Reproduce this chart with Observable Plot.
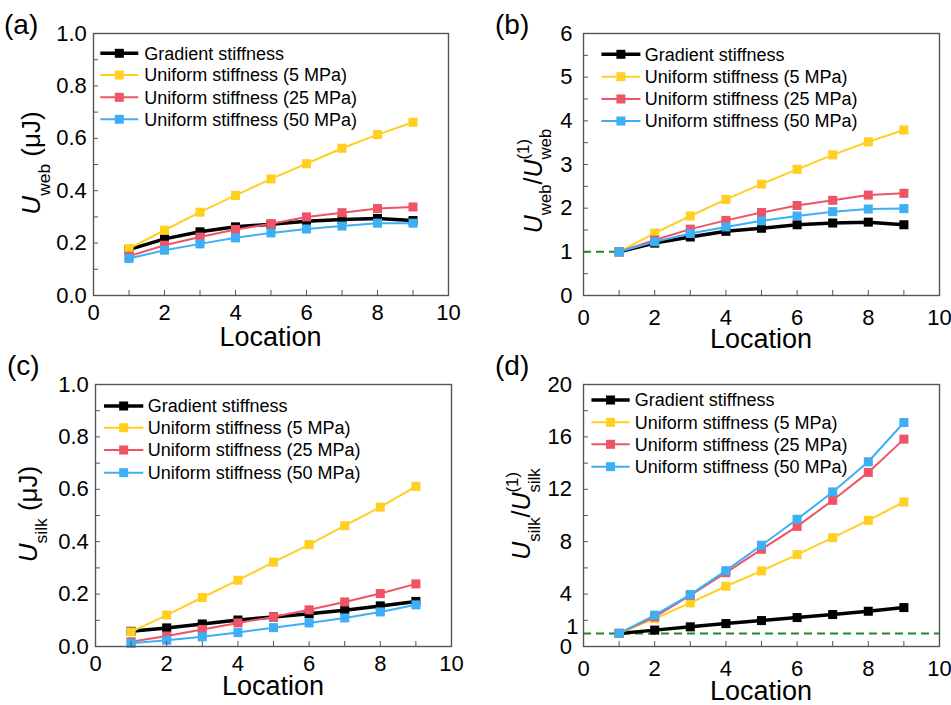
<!DOCTYPE html>
<html><head><meta charset="utf-8">
<script src="https://cdn.jsdelivr.net/npm/d3@7"></script>
<script src="https://cdn.jsdelivr.net/npm/@observablehq/plot@0.6"></script>
<style>
body{margin:0;background:#fff;}
#wrap{position:relative;width:951px;height:705px;overflow:hidden;font-family:"Liberation Sans",Arial,sans-serif;}
.panel{position:absolute;}
</style></head><body><div id="wrap"></div>
<script>
// ---------- data ----------
const locations = [1, 2, 3, 4, 5, 6, 7, 8, 9];
const seriesNames = ["Gradient stiffness", "Uniform stiffness (5 MPa)", "Uniform stiffness (25 MPa)", "Uniform stiffness (50 MPa)"];
const seriesColors = ["#000000", "#FFCF22", "#EF5466", "#3DAFF5"];

const webGradient = [0.175, 0.216, 0.243, 0.262, 0.272, 0.283, 0.290, 0.294, 0.286];
const web5 = [0.179, 0.249, 0.318, 0.382, 0.445, 0.503, 0.562, 0.614, 0.661];
const web25 = [0.150, 0.192, 0.223, 0.252, 0.274, 0.300, 0.316, 0.332, 0.338];
const web50 = [0.141, 0.173, 0.197, 0.220, 0.239, 0.254, 0.265, 0.276, 0.276];

const webRatioGradient = [1, 1.20, 1.34, 1.47, 1.54, 1.62, 1.66, 1.68, 1.62];
const webRatio5 = [1, 1.43, 1.82, 2.20, 2.55, 2.89, 3.22, 3.52, 3.79];
const webRatio25 = [1, 1.27, 1.52, 1.72, 1.90, 2.06, 2.18, 2.30, 2.34];
const webRatio50 = [1, 1.23, 1.42, 1.57, 1.71, 1.82, 1.92, 1.98, 1.99];

const silkGradient = [0.058, 0.071, 0.086, 0.101, 0.113, 0.125, 0.138, 0.155, 0.172];
const silk5 = [0.056, 0.120, 0.187, 0.253, 0.322, 0.389, 0.461, 0.532, 0.611];
const silk25 = [0.018, 0.040, 0.065, 0.090, 0.113, 0.140, 0.170, 0.202, 0.239];
const silk50 = [0.012, 0.024, 0.037, 0.053, 0.072, 0.090, 0.109, 0.132, 0.159];

const silkRatioGradient = [1, 1.25, 1.50, 1.75, 1.98, 2.21, 2.44, 2.69, 2.97];
const silkRatio5 = [1, 2.13, 3.33, 4.60, 5.77, 7.01, 8.31, 9.63, 11.03];
const silkRatio25 = [1, 2.26, 3.91, 5.64, 7.42, 9.17, 11.16, 13.29, 15.83];
const silkRatio50 = [1, 2.39, 3.96, 5.79, 7.73, 9.71, 11.80, 14.10, 17.10];

// ---------- ticks ----------
const xMajor = [0, 2, 4, 6, 8, 10];
const xMinor = [1, 3, 5, 7, 9];
const energyMajor = [0, 0.2, 0.4, 0.6, 0.8, 1.0];
const energyMinor = [0.1, 0.3, 0.5, 0.7, 0.9];
const webRatioMajor = [0, 1, 2, 3, 4, 5, 6];
const webRatioMinor = [0.5, 1.5, 2.5, 3.5, 4.5, 5.5];
const silkRatioMajor = [0, 4, 8, 12, 16, 20];
const silkRatioMinor = [2, 6, 10, 14, 18];
const silkRatioExtra = [1];
const panelLetters = ["(a)", "(b)", "(c)", "(d)"];

// ---------- helpers ----------
const FONT = '"Liberation Sans", Arial, sans-serif';
const FRAME = "#555";

function tidy(arrays) {
  const rows = [];
  arrays.forEach((arr, s) => arr.forEach((v, i) => rows.push({loc: locations[i], value: v, series: s})));
  return rows;
}

function richLabel(svg, parts, bx, cy, size) {
  const t = svg.append("text")
    .attr("font-family", FONT).attr("font-size", size).attr("fill", "black").attr("text-anchor", "start")
    .attr("transform", `translate(${bx},${cy}) rotate(-90)`);
  let x = 0, lastStart = 0;
  for (const p of parts) {
    const fs = p.shift ? size * 0.67 : size;
    const y = p.shift === "sub" ? size * 0.38 : p.shift === "sup" ? -size * 0.5 : 0;
    const sx = p.stack ? lastStart : x;
    const ts = t.append("tspan").attr("x", sx).attr("y", y).attr("font-size", fs).text(p.t);
    if (p.italic) ts.attr("font-style", "italic");
    const w = ts.node().getComputedTextLength();
    if (!p.stack) { lastStart = sx; x = sx + w; } else { x = Math.max(x, sx + w); }
  }
  t.selectAll("tspan").attr("x", function () { return +this.getAttribute("x") - x / 2; });
}

function makePanel(cfg) {
  const rows = tidy(cfg.series);
  const marks = [];
  if (cfg.dashed) marks.push(Plot.ruleY(cfg.dashed.y, {x1: cfg.dashed.x1, x2: cfg.dashed.x2, stroke: "#1f8a1f", strokeWidth: 2, strokeDasharray: "8,5"}));
  cfg.series.forEach((_, s) => {
    const d = rows.filter(r => r.series === s);
    marks.push(Plot.line(d, {x: "loc", y: "value", stroke: seriesColors[s], strokeWidth: s === 0 ? 3.5 : 2}));
    marks.push(Plot.dot(d, {x: "loc", y: "value", symbol: "square", fill: seriesColors[s], r: 5.1}));
  });
  marks.push(Plot.frame({stroke: FRAME, strokeWidth: 1.4}));
  marks.push(Plot.axisX(xMajor, {tickSize: -5, tickPadding: cfg.xPad, stroke: FRAME, fill: "black", fontSize: 22, label: null}));
  marks.push(Plot.axisX(xMinor, {tickSize: -5, tickFormat: () => "", stroke: FRAME, label: null}));
  marks.push(Plot.axisY(cfg.yMajor, {tickSize: -5, tickPadding: cfg.yPad, stroke: FRAME, fill: "black", fontSize: 22, label: null, tickFormat: cfg.fmt}));
  marks.push(Plot.axisY(cfg.yMinor, {tickSize: -5, tickFormat: () => "", stroke: FRAME, label: null}));
  if (cfg.extra) marks.push(Plot.axisY(cfg.extra, {tickSize: 0, tickPadding: 5, dy: -6.5, fill: "black", fontSize: 22, label: null}));

  const plot = Plot.plot({
    width: cfg.w, height: cfg.h,
    marginLeft: cfg.m[0], marginRight: cfg.m[1], marginTop: cfg.m[2], marginBottom: cfg.m[3],
    x: {domain: [0, 10], label: null},
    y: {domain: cfg.yDomain, label: null},
    style: {fontFamily: FONT, fontSize: "22px", background: "transparent", overflow: "visible", color: "black"},
    marks
  });

  // attach first so text can be measured
  const div = document.createElement("div");
  div.className = "panel";
  div.style.left = cfg.left + "px";
  div.style.top = cfg.top + "px";
  div.appendChild(plot);
  document.getElementById("wrap").appendChild(div);

  const svg = d3.select(plot);
  const fl = cfg.m[0], ft = cfg.m[2], fr = cfg.w - cfg.m[1], fb = cfg.h - cfg.m[3];

  // panel letter
  svg.append("text").attr("x", cfg.letter[0]).attr("y", cfg.letter[1]).attr("font-family", FONT)
    .attr("text-anchor", "start").attr("font-size", 28).attr("fill", "black").text(cfg.letterText);
  // x title
  svg.append("text").attr("x", (fl + fr) / 2).attr("y", fb + cfg.xTitleOff).attr("text-anchor", "middle")
    .attr("font-family", FONT).attr("font-size", 27).attr("fill", "black").text("Location");
  // y title
  richLabel(svg, cfg.yTitle, cfg.yTitlePos[0], cfg.yTitlePos[1], cfg.yTitleSize);
  // legend
  const lg = cfg.legend;
  seriesNames.forEach((name, s) => {
    const y = ft + lg.rows[s];
    svg.append("line").attr("x1", fl + lg.x0).attr("x2", fl + lg.x1).attr("y1", y).attr("y2", y)
      .attr("stroke", seriesColors[s]).attr("stroke-width", s === 0 ? 3.5 : 2);
    const cx = fl + (lg.x0 + lg.x1) / 2;
    svg.append("rect").attr("x", cx - 4.5).attr("y", y - 4.5).attr("width", 9).attr("height", 9).attr("fill", seriesColors[s]);
    svg.append("text").attr("x", fl + lg.xt).attr("y", y).attr("dy", "0.36em").attr("font-family", FONT)
      .attr("text-anchor", "start").attr("font-size", 18).attr("fill", "black").text(name);
  });
}

const webTitle = [{t: "U", italic: true}, {t: "web", shift: "sub"}, {t: " (μJ)"}];
const silkTitle = [{t: "U", italic: true}, {t: "silk", shift: "sub"}, {t: " (μJ)"}];
const webRatioTitle = [{t: "U", italic: true}, {t: "web", shift: "sub"}, {t: "/"}, {t: "U", italic: true}, {t: "web", shift: "sub"}, {t: "(1)", shift: "sup", stack: true}];
const silkRatioTitle = [{t: "U", italic: true}, {t: "silk", shift: "sub"}, {t: "/"}, {t: "U", italic: true}, {t: "silk", shift: "sub"}, {t: "(1)", shift: "sup", stack: true}];

makePanel({
  left: 0, top: 0, w: 475, h: 345, m: [93, 27, 33, 50],
  series: [webGradient, web5, web25, web50], yDomain: [0, 1],
  yMajor: energyMajor, yMinor: energyMinor, fmt: d3.format(".1f"),
  xPad: 13.4, yPad: 11.7,
  letter: [4, 34], letterText: panelLetters[0], xTitleOff: 51.4,
  yTitle: webTitle, yTitlePos: [40, 163], yTitleSize: 26,
  legend: {x0: 7.3, x1: 45.3, xt: 51.3, rows: [20.3, 42, 64.3, 86.3]}
});
makePanel({
  left: 475, top: 0, w: 476, h: 345, m: [108, 12, 33, 50],
  series: [webRatioGradient, webRatio5, webRatio25, webRatio50], yDomain: [0, 6],
  yMajor: webRatioMajor, yMinor: webRatioMinor, fmt: d3.format("d"),
  xPad: 18.5, yPad: 16,
  dashed: {y: [1], x1: 0, x2: 1},
  letter: [20, 34], letterText: panelLetters[1], xTitleOff: 52.7,
  yTitle: webRatioTitle, yTitlePos: [66.7, 181], yTitleSize: 25,
  legend: {x0: 18.4, x1: 57.4, xt: 61.7, rows: [21.3, 43.7, 66, 88]}
});
makePanel({
  left: 0, top: 345, w: 475, h: 360, m: [95, 24, 39, 59],
  series: [silkGradient, silk5, silk25, silk50], yDomain: [0, 1],
  yMajor: energyMajor, yMinor: energyMinor, fmt: d3.format(".1f"),
  xPad: 14.3, yPad: 11.7,
  letter: [7, 30], letterText: panelLetters[2], xTitleOff: 48.7,
  yTitle: silkTitle, yTitlePos: [37, 169], yTitleSize: 26,
  legend: {x0: 9, x1: 48.3, xt: 52.7, rows: [22, 43.7, 66, 88.7]}
});
makePanel({
  left: 475, top: 345, w: 476, h: 360, m: [108, 12, 39, 59],
  series: [silkRatioGradient, silkRatio5, silkRatio25, silkRatio50], yDomain: [0, 20],
  yMajor: silkRatioMajor, yMinor: silkRatioMinor, fmt: d3.format("d"), extra: silkRatioExtra,
  xPad: 19.3, yPad: 16.6,
  dashed: {y: [1]},
  letter: [20, 30], letterText: panelLetters[3], xTitleOff: 53.7,
  yTitle: silkRatioTitle, yTitlePos: [55, 169], yTitleSize: 25,
  legend: {x0: 8.4, x1: 46.7, xt: 51.7, rows: [16, 38.3, 60.3, 82.7]}
});
</script></body></html>
